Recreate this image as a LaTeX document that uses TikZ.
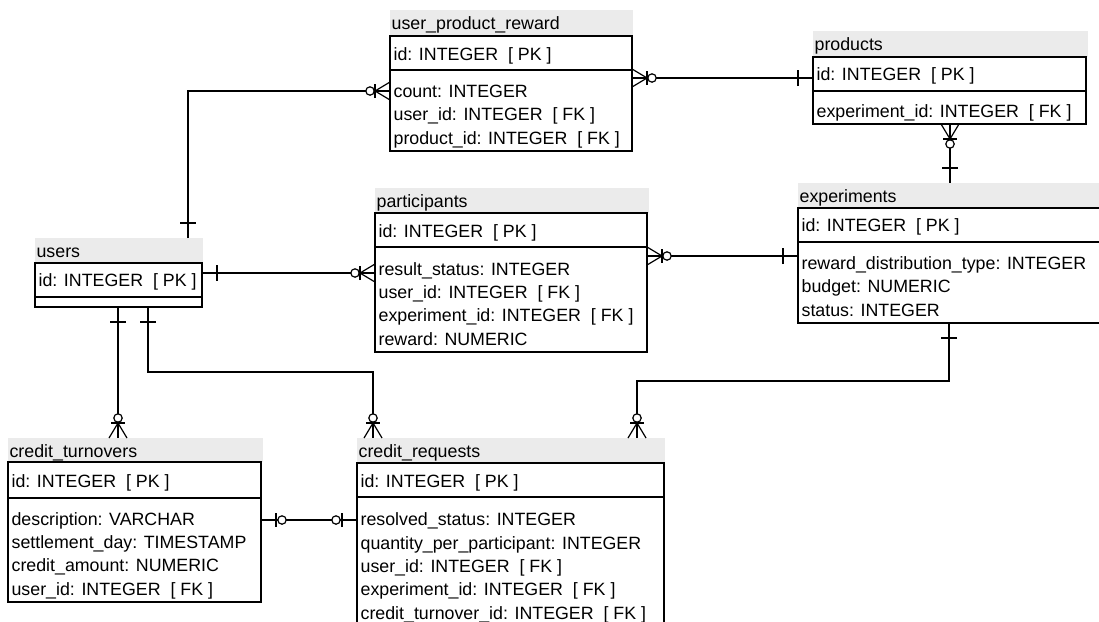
\documentclass[tikz,border=0pt]{standalone}
\usepackage{fontspec}
\setmainfont{Liberation Sans}
\definecolor{hdrgray}{HTML}{EBEBEB}
\begin{document}
\begin{tikzpicture}[x=1pt,y=-1pt,line width=1.2pt,
  hdr/.style={fill=hdrgray,draw=none,anchor=north west,inner sep=0,outer sep=0},
  ent/.style={draw,anchor=north west,inner sep=0,outer sep=0},
  ttl/.style={anchor=base west,inner sep=0,font=\fontsize{17.8}{20}\selectfont},
  fld/.style={anchor=base west,inner sep=0,font=\fontsize{17.8}{20}\selectfont},
  pics/erone/.style={code={\draw (15,-8)--(15,8);}},
  pics/erzeromany/.style={code={\draw (0,-9)--(15,0)--(0,9); \draw (15,-7)--(15,7); \draw[fill=white] (20,0) circle (4.2);}},
  pics/erzeroone/.style={code={\draw (15,-7)--(15,7); \draw[fill=white] (21,0) circle (4.2);}}
]
\useasboundingbox (0,0) rectangle (1099,621);
\clip (0,0) rectangle (1099,621);

% ---------- user_product_reward ----------
\node[hdr,minimum width=243,minimum height=26] (uprH) at (390,10) {};
\node[ent,minimum width=242,minimum height=115] (upr) at (390,36) {};
\draw (upr.west |- 0,70) -- (upr.east |- 0,70);
\node[ttl] (uprT) at (391,29) {user\_product\_reward};
\node[fld] (upr1) at (393,60) {id: INTEGER\ \ [ PK ]};
\node[fld] (upr2) at (393,97.3) {count: INTEGER};
\node[fld] (upr3) at (393,120.7) {user\_id: INTEGER\ \ [ FK ]};
\node[fld] (upr4) at (393,144) {product\_id: INTEGER\ \ [ FK ]};

% ---------- products ----------
\node[hdr,minimum width=275,minimum height=26] (prH) at (813,31) {};
\node[ent,minimum width=273,minimum height=67] (pr) at (813,57) {};
\draw (pr.west |- 0,91) -- (pr.east |- 0,91);
\node[ttl] (prT) at (814,50) {products};
\node[fld] (pr1) at (816,80) {id: INTEGER\ \ [ PK ]};
\node[fld] (pr2) at (816,117) {experiment\_id: INTEGER\ \ [ FK ]};

% ---------- experiments ----------
\node[hdr,minimum width=310,minimum height=25] (exH) at (798,183) {};
\node[ent,minimum width=310,minimum height=115] (ex) at (798,208) {};
\draw (ex.west |- 0,242) -- (ex.east |- 0,242);
\node[ttl] (exT) at (799,202) {experiments};
\node[fld] (ex1) at (801,231.5) {id: INTEGER\ \ [ PK ]};
\node[fld] (ex2) at (801,269.3) {reward\_distribution\_type: INTEGER};
\node[fld] (ex3) at (801,292.7) {budget: NUMERIC};
\node[fld] (ex4) at (801,316) {status: INTEGER};

% ---------- users ----------
\node[hdr,minimum width=168,minimum height=25] (uH) at (35,238) {};
\node[ent,minimum width=167,minimum height=44] (u) at (35,263) {};
\draw (u.west |- 0,297) -- (u.east |- 0,297);
\node[ttl] (uT) at (36,257) {users};
\node[fld] (u1) at (38,286.5) {id: INTEGER\ \ [ PK ]};

% ---------- participants ----------
\node[hdr,minimum width=274,minimum height=25] (paH) at (375,188) {};
\node[ent,minimum width=272,minimum height=139] (pa) at (375,213) {};
\draw (pa.west |- 0,247) -- (pa.east |- 0,247);
\node[ttl] (paT) at (376,207) {participants};
\node[fld] (pa1) at (378,237.5) {id: INTEGER\ \ [ PK ]};
\node[fld] (pa2) at (378,275) {result\_status: INTEGER};
\node[fld] (pa3) at (378,298.3) {user\_id: INTEGER\ \ [ FK ]};
\node[fld] (pa4) at (378,321.7) {experiment\_id: INTEGER\ \ [ FK ]};
\node[fld] (pa5) at (378,345) {reward: NUMERIC};

% ---------- credit_turnovers ----------
\node[hdr,minimum width=255,minimum height=24] (ctH) at (8,438) {};
\node[ent,minimum width=253,minimum height=140] (ct) at (8,462) {};
\draw (ct.west |- 0,498) -- (ct.east |- 0,498);
\node[ttl] (ctT) at (9,457) {credit\_turnovers};
\node[fld] (ct1) at (11,487) {id: INTEGER\ \ [ PK ]};
\node[fld] (ct2) at (11,525) {description: VARCHAR};
\node[fld] (ct3) at (11,548.3) {settlement\_day: TIMESTAMP};
\node[fld] (ct4) at (11,571.7) {credit\_amount: NUMERIC};
\node[fld] (ct5) at (11,595) {user\_id: INTEGER\ \ [ FK ]};

% ---------- credit_requests ----------
\node[hdr,minimum width=308,minimum height=25] (crH) at (357,438) {};
\node[ent,minimum width=307,minimum height=164] (cr) at (357,463) {};
\draw (cr.west |- 0,497) -- (cr.east |- 0,497);
\node[ttl] (crT) at (358,457) {credit\_requests};
\node[fld] (cr1) at (360,487.5) {id: INTEGER\ \ [ PK ]};
\node[fld] (cr2) at (360,525.7) {resolved\_status: INTEGER};
\node[fld] (cr3) at (360,549) {quantity\_per\_participant: INTEGER};
\node[fld] (cr4) at (360,572.3) {user\_id: INTEGER\ \ [ FK ]};
\node[fld] (cr5) at (360,595.7) {experiment\_id: INTEGER\ \ [ FK ]};
\node[fld] (cr6) at (360,619) {credit\_turnover\_id: INTEGER\ \ [ FK ]};

% ---------- connector end points ----------
\coordinate (uA) at (188,238);   \coordinate (uprA) at (390,91);
\coordinate (uprB) at (632,78);  \coordinate (prB) at (813,78);
\coordinate (prC) at (950,124);  \coordinate (exC) at (950,183);
\coordinate (uD) at (202,273);   \coordinate (paD) at (375,273);
\coordinate (paE) at (647,256);  \coordinate (exE) at (798,256);
\coordinate (uF) at (118,307);   \coordinate (ctF) at (118,438);
\coordinate (uG) at (148,307);   \coordinate (crG) at (373,438);
\coordinate (exH2) at (949,323); \coordinate (crH2) at (637,438);
\coordinate (ctI) at (261,520);  \coordinate (crI) at (357,520);

% ---------- connectors ----------
\draw (uA) |- (uprA);
\pic[rotate=90] at (uA) {erone};
\pic[rotate=180] at (uprA) {erzeromany};

\draw (uprB) -- (prB);
\pic at (uprB) {erzeromany};
\pic[rotate=180] at (prB) {erone};

\draw (prC) -- (exC);
\pic[rotate=270] at (prC) {erzeromany};
\pic[rotate=90] at (exC) {erone};

\draw (uD) -- (paD);
\pic at (uD) {erone};
\pic[rotate=180] at (paD) {erzeromany};

\draw (paE) -- (exE);
\pic at (paE) {erzeromany};
\pic[rotate=180] at (exE) {erone};

\draw (uF) -- (ctF);
\pic[rotate=270] at (uF) {erone};
\pic[rotate=90] at (ctF) {erzeromany};

\draw (uG) -- ++(0,65) -| (crG);
\pic[rotate=270] at (uG) {erone};
\pic[rotate=90] at (crG) {erzeromany};

\draw (exH2) -- ++(0,58) -| (crH2);
\pic[rotate=270] at (exH2) {erone};
\pic[rotate=90] at (crH2) {erzeromany};

\draw (ctI) -- (crI);
\pic at (ctI) {erzeroone};
\pic[rotate=180] at (crI) {erzeroone};
\end{tikzpicture}
\end{document}
